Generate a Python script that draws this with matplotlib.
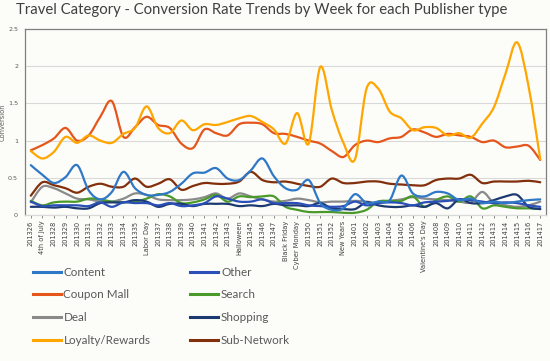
import numpy as np
import matplotlib
matplotlib.use("Agg")
import matplotlib.pyplot as plt
from matplotlib.path import Path
from matplotlib.patches import PathPatch
from matplotlib.lines import Line2D

# ---- data ----
weeks = ["201326", "4th of July", "201328", "201329", "201330", "201331", "201332",
         "201333", "201334", "201335", "Labor Day", "201337", "201338", "201339",
         "201340", "201341", "201342", "201343", "Halloween", "201345", "201346",
         "201347", "Black Friday", "Cyber Monday", "201350", "201351", "201352",
         "New Years", "201401", "201402", "201403", "201404", "201405", "201406",
         "Valentine's Day", "201408", "201409", "201410", "201411", "201412",
         "201413", "201414", "201415", "201416", "201417"]

content = [0.67, 0.54, 0.43, 0.51, 0.67, 0.33, 0.21, 0.31, 0.58, 0.36, 0.27, 0.27,
           0.31, 0.42, 0.56, 0.57, 0.63, 0.49, 0.47, 0.60, 0.76, 0.52, 0.36, 0.34,
           0.47, 0.16, 0.07, 0.09, 0.28, 0.16, 0.18, 0.20, 0.53, 0.29, 0.25, 0.31,
           0.29, 0.20, 0.22, 0.16, 0.18, 0.16, 0.18, 0.20, 0.21]
coupon_mall = [0.87, 0.94, 1.03, 1.17, 1.00, 1.07, 1.32, 1.53, 1.05, 1.18, 1.32, 1.21,
               1.17, 0.96, 0.90, 1.15, 1.10, 1.07, 1.22, 1.24, 1.22, 1.10, 1.09, 1.05,
               1.00, 0.96, 0.86, 0.78, 0.94, 1.00, 0.98, 1.03, 1.05, 1.15, 1.11, 1.05,
               1.09, 1.07, 1.05, 0.98, 1.00, 0.91, 0.92, 0.93, 0.74]
deal = [0.17, 0.38, 0.36, 0.29, 0.22, 0.21, 0.18, 0.18, 0.22, 0.29, 0.27, 0.21,
        0.20, 0.20, 0.21, 0.24, 0.29, 0.22, 0.29, 0.25, 0.21, 0.18, 0.19, 0.22,
        0.20, 0.17, 0.18, 0.18, 0.19, 0.18, 0.16, 0.19, 0.21, 0.24, 0.22, 0.21,
        0.20, 0.18, 0.17, 0.31, 0.16, 0.13, 0.11, 0.13, 0.18]
loyalty = [0.86, 0.76, 0.85, 1.05, 0.97, 1.07, 1.00, 0.97, 1.09, 1.17, 1.46, 1.17,
           1.10, 1.27, 1.14, 1.22, 1.21, 1.25, 1.30, 1.33, 1.25, 1.15, 0.96, 1.37,
           0.96, 1.99, 1.41, 0.97, 0.75, 1.70, 1.70, 1.39, 1.30, 1.14, 1.18, 1.17,
           1.07, 1.10, 1.04, 1.23, 1.45, 1.90, 2.32, 1.72, 0.75]
other = [0.18, 0.12, 0.13, 0.13, 0.13, 0.12, 0.17, 0.11, 0.17, 0.16, 0.16, 0.13,
         0.16, 0.12, 0.13, 0.16, 0.25, 0.22, 0.18, 0.18, 0.21, 0.16, 0.16, 0.16,
         0.13, 0.12, 0.11, 0.12, 0.18, 0.13, 0.16, 0.17, 0.16, 0.13, 0.17, 0.18,
         0.19, 0.21, 0.20, 0.18, 0.16, 0.17, 0.16, 0.13, 0.11]
search = [0.19, 0.13, 0.17, 0.18, 0.18, 0.22, 0.21, 0.18, 0.17, 0.18, 0.22, 0.28,
          0.25, 0.16, 0.17, 0.21, 0.27, 0.18, 0.25, 0.24, 0.25, 0.25, 0.11, 0.07,
          0.04, 0.04, 0.04, 0.03, 0.03, 0.07, 0.18, 0.19, 0.19, 0.25, 0.11, 0.20,
          0.25, 0.18, 0.25, 0.09, 0.13, 0.11, 0.09, 0.09, 0.08]
shopping = [0.11, 0.11, 0.10, 0.11, 0.09, 0.09, 0.16, 0.17, 0.17, 0.20, 0.18, 0.11,
            0.15, 0.15, 0.12, 0.15, 0.15, 0.15, 0.12, 0.13, 0.12, 0.15, 0.13, 0.13,
            0.12, 0.16, 0.09, 0.08, 0.08, 0.17, 0.13, 0.11, 0.11, 0.13, 0.11, 0.16,
            0.09, 0.21, 0.16, 0.16, 0.20, 0.25, 0.27, 0.11, 0.08]
sub_network = [0.26, 0.44, 0.40, 0.36, 0.30, 0.38, 0.42, 0.38, 0.38, 0.49, 0.38, 0.42,
               0.48, 0.34, 0.39, 0.43, 0.42, 0.42, 0.45, 0.58, 0.47, 0.44, 0.45, 0.42,
               0.39, 0.38, 0.49, 0.43, 0.43, 0.45, 0.45, 0.42, 0.41, 0.40, 0.40, 0.47,
               0.49, 0.49, 0.54, 0.43, 0.45, 0.45, 0.45, 0.46, 0.44]

series = ["Content", "Coupon Mall", "Deal", "Loyalty/Rewards",
          "Other", "Search", "Shopping", "Sub-Network"]
values = [content, coupon_mall, deal, loyalty, other, search, shopping, sub_network]
colors = ["#2f78c8", "#e5561c", "#8a8a8a", "#ffa600",
          "#2a4fb8", "#4a9a2a", "#1c3a72", "#82300c"]
# draw order: back to front
draw_order = [2, 5, 6, 4, 7, 0, 1, 3]

bg = "#fcfcf8"
txt = "#595959"


def smooth_path(y):
    # excel style smoothed line: cubic bezier through every point
    x = np.arange(len(y), dtype=float)
    y = np.asarray(y, dtype=float)
    verts = [(x[0], y[0])]
    codes = [Path.MOVETO]
    n = len(y)
    for i in range(n - 1):
        x0, y0 = (x[i - 1], y[i - 1]) if i > 0 else (x[i], y[i])
        x3, y3 = (x[i + 2], y[i + 2]) if i + 2 < n else (x[i + 1], y[i + 1])
        c1 = (x[i] + (x[i + 1] - x0) / 6, y[i] + (y[i + 1] - y0) / 6)
        c2 = (x[i + 1] - (x3 - x[i]) / 6, y[i + 1] - (y3 - y[i]) / 6)
        verts += [c1, c2, (x[i + 1], y[i + 1])]
        codes += [Path.CURVE4] * 3
    return Path(verts, codes)


fig = plt.figure(figsize=(5.5, 3.61), dpi=100, facecolor=bg)
ax = fig.add_axes([0.0455, 0.4044, 0.9473, 0.5153], facecolor=bg)

for k in draw_order:
    ax.add_patch(PathPatch(smooth_path(values[k]), fill=False,
                           edgecolor=colors[k], lw=1.6, capstyle="round",
                           joinstyle="round"))

ax.set_xlim(-0.5, len(weeks) - 0.5)
ax.set_ylim(0, 2.5)
ax.set_yticks([0, 0.5, 1, 1.5, 2, 2.5])
ax.set_yticklabels(["0", "0.5", "1", "1.5", "2", "2.5"])
ax.set_xticks(np.arange(len(weeks)))
ax.set_xticklabels(weeks, rotation=90)
ax.tick_params(axis="x", labelsize=4.8, colors=txt, length=2, width=0.5,
               pad=2, labelcolor="#404040")
ax.tick_params(axis="y", labelsize=4.6, length=0, pad=5, labelcolor=txt)
ax.grid(axis="y", color="#d9d9d9", lw=0.8)
ax.set_axisbelow(True)
for s in ax.spines.values():
    s.set_color("#7f7f7f")
    s.set_linewidth(0.9)
ax.spines["bottom"].set_color("#d9d9d9")
ax.set_ylabel("Conversion", fontsize=4.8, color=txt)
ax.yaxis.set_label_coords(-0.037, 0.5)

fig.text(0.476, 0.972, "Travel Category - Conversion Rate Trends by Week for each Publisher type",
         ha="center", va="center", fontsize=10.7, color="#404040", family="Lato")

handles = [Line2D([], [], color=c, lw=2.2) for c in colors]
fig.legend(handles, series, ncol=2, loc="upper left", bbox_to_anchor=(0.04, 0.29),
           frameon=False, labelcolor=txt, handlelength=2.4,
           handletextpad=0.25, labelspacing=1.0, columnspacing=3.4,
           prop={"family": "Lato", "size": 8.4})

fig.savefig("out.png", dpi=100, facecolor=bg)
